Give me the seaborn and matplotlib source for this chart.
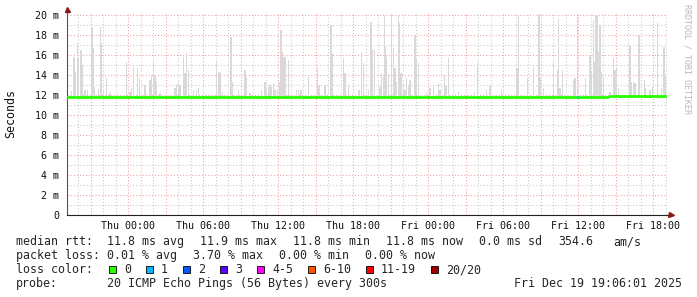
import numpy as np
import pandas as pd
import matplotlib
matplotlib.use("Agg")
import matplotlib.pyplot as plt
import matplotlib.dates as mdates
from matplotlib.ticker import MultipleLocator, FuncFormatter
from matplotlib.patches import Rectangle
import seaborn as sns

# ---------------- data ----------------
start = pd.Timestamp("2025-12-17 19:06:01")
span_hours = 48

# smoke spikes: hours after start, max ping (ms)
spike_hours = [0.03, 0.37, 0.56, 0.64, 0.83, 0.93, 1.12, 1.20, 1.44, 1.63, 2.00, 2.11, 2.19,
               2.51, 2.69, 2.77, 2.91, 3.17, 3.44, 4.77, 5.04, 5.17, 5.31, 5.63, 5.79, 6.24,
               6.64, 6.77, 6.91, 7.04, 7.17, 7.44, 8.11, 8.64, 8.77, 8.91, 9.04, 9.31, 9.44,
               9.57, 9.71, 10.11, 10.37, 10.51, 11.17, 11.97, 12.16, 12.24, 12.43, 13.12,
               13.23, 13.71, 14.24, 14.37, 14.64, 15.57, 15.84, 15.97, 16.11, 16.24, 16.37,
               16.51, 16.64, 16.83, 16.99, 17.12, 17.23, 17.36, 17.49, 17.71, 18.37, 18.51,
               18.72, 19.31, 20.03, 20.16, 20.64, 21.12, 21.23, 22.11, 22.24, 22.51, 23.36,
               23.57, 23.71, 24.15, 24.32, 24.45, 24.59, 25.04, 25.17, 25.31, 25.39, 25.49,
               25.57, 25.71, 25.97, 26.11, 26.24, 26.37, 26.51, 26.61, 26.72, 26.91, 27.04,
               27.17, 27.30, 27.44, 27.84, 27.97, 28.11, 28.77, 29.04, 29.31, 29.71, 29.84,
               30.19, 30.32, 30.51, 31.31, 32.59, 32.85, 33.57, 33.84, 34.77, 35.97, 36.05,
               36.13, 36.85, 37.31, 37.76, 37.84, 38.11, 38.91, 39.23, 39.31, 39.44, 39.63,
               40.51, 40.64, 40.85, 41.49, 41.84, 41.97, 42.11, 42.24, 42.32, 42.43, 42.51,
               42.64, 42.77, 42.91, 43.44, 43.71, 43.84, 43.97, 44.11, 45.04, 45.17, 45.31,
               45.44, 45.76, 46.19, 46.29, 46.64, 46.83, 47.23, 47.57, 47.76, 47.84]
spike_ms = [13.8, 12.4, 15.8, 14.3, 17.2, 15.7, 16.5, 15.0, 12.5, 12.5, 18.8, 16.7, 12.8,
            12.6, 18.8, 17.2, 12.5, 13.7, 12.2, 15.3, 12.3, 12.7, 14.8, 14.7, 13.7, 13.0,
            13.5, 14.0, 15.2, 14.0, 13.3, 12.2, 12.0, 12.7, 13.0, 13.3, 13.0, 15.8, 14.2,
            16.2, 14.5, 12.5, 12.5, 12.7, 12.0, 15.3, 14.3, 14.2, 12.3, 17.8,
            13.3, 12.5, 14.5, 13.8, 12.2, 12.5, 13.3, 12.7, 12.8, 13.0, 12.8,
            13.2, 12.5, 12.5, 13.3, 18.5, 16.3, 15.8, 15.8, 15.5, 12.5, 12.5,
            12.5, 13.8, 14.7, 13.0, 13.0, 19.0, 16.2, 15.7, 14.2, 13.0, 12.5,
            16.3, 15.2, 12.5, 19.3, 16.5, 16.5, 12.8, 14.2, 13.8, 20.0, 16.8,
            15.8, 14.0, 20.0, 16.7, 14.7, 13.3, 20.0, 19.2, 14.2, 13.0, 12.5,
            13.7, 12.8, 13.5, 18.0, 15.5, 15.2, 12.3, 12.7, 12.8, 13.2, 12.5,
            14.0, 13.0, 15.7, 12.3, 12.3, 15.2, 12.5, 13.0, 12.5, 14.7, 14.7,
            20.0, 13.7, 14.8, 20.1, 13.7, 12.7, 15.2, 14.5, 19.7, 12.7, 14.5,
            13.5, 13.7, 19.8, 13.7, 16.0, 14.3, 19.5, 15.3, 20.0, 20.0, 16.3,
            19.0, 14.3, 13.7, 12.3, 15.7, 14.5, 14.7, 12.7, 17.0, 13.3, 13.3,
            13.2, 18.0, 13.5, 12.7, 12.5, 12.8, 19.2, 12.7, 16.8, 14.0]

# median rtt segments (hours after start)
median_seg_start = [0.0, 43.45]
median_seg_end = [43.25, 48.0]
median_seg_ms = [11.8, 11.9]

# loss events drawn on the median line
loss_event_hours = [40.85]
loss_event_level = [1]

loss_labels = ["0", "1", "2", "3", "4-5", "6-10", "11-19", "20/20"]
loss_colors = ["#26ff00", "#00b8ff", "#0059ff", "#5e00ff", "#ff00ff", "#ff5500", "#ff0000", "#a10000"]

y_ticks_ms = [0, 2, 4, 6, 8, 10, 12, 14, 16, 18, 20]

median_items = ["11.8 ms avg", "11.9 ms max", "11.8 ms min", "11.8 ms now", "0.0 ms sd", "354.6", "am/s"]
loss_items = ["0.01 % avg", "3.70 % max", "0.00 % min", "0.00 % now"]
probe_text = "20 ICMP Echo Pings (56 Bytes) every 300s"
stamp_text = "Fri Dec 19 19:06:01 2025"

# ---------------- figure ----------------
W, H = 697, 297
sns.set_style("white")
plt.rcParams["font.family"] = ["DejaVu Sans Mono", "DejaVu Sans"]

fig = plt.figure(figsize=(W / 100, H / 100), dpi=100, facecolor="white")
ax_l, ax_r, ax_t, ax_b = 67, 667, 13, 215
ax = fig.add_axes([ax_l / W, 1 - ax_b / H, (ax_r - ax_l) / W, (ax_b - ax_t) / H])
ax.set_facecolor("white")

t0 = mdates.date2num(start.to_pydatetime())
t1 = t0 + span_hours / 24.0

# smoke
sx = t0 + np.array(spike_hours) / 24.0
sv = np.array(spike_ms)
ax.bar(sx, sv - 11.7, bottom=11.7, width=5.5 / 1440, color="#d9d9d9", linewidth=0, zorder=2)

# median line
rows = []
for i, (a, b, v) in enumerate(zip(median_seg_start, median_seg_end, median_seg_ms)):
    rows.append(dict(x=t0 + a / 24.0, ms=v, seg=i))
    rows.append(dict(x=t0 + b / 24.0, ms=v, seg=i))
mdf = pd.DataFrame(rows)
sns.lineplot(data=mdf, x="x", y="ms", units="seg", estimator=None, color=loss_colors[0],
             linewidth=2.0, ax=ax, zorder=4, legend=False)
for h, lvl in zip(loss_event_hours, loss_event_level):
    xx = t0 + h / 24.0
    ax.plot([xx - 2.5 / 1440, xx + 2.5 / 1440], [11.8, 11.8], color=loss_colors[lvl],
            linewidth=2.0, solid_capstyle="butt", zorder=5)

ax.set_xlim(t0, t1)
ax.set_ylim(0, 20.2)
ax.set_xlabel("")
ax.set_ylabel("")

# axes / grid
ax.xaxis.set_major_locator(mdates.HourLocator(byhour=range(0, 24, 3)))
ax.xaxis.set_minor_locator(mdates.HourLocator(interval=1))


def xfmt(x, pos):
    hr = int(round(x * 24))
    if hr % 6 != 0:
        return ""
    return mdates.num2date(hr / 24.0).strftime("%a %H:%M")


ax.xaxis.set_major_formatter(FuncFormatter(xfmt))
ax.yaxis.set_major_locator(MultipleLocator(2))
ax.yaxis.set_minor_locator(MultipleLocator(1))
ax.set_yticks(y_ticks_ms)
ax.yaxis.set_major_formatter(FuncFormatter(lambda v, p: "0" if v == 0 else f"{int(round(v))} m"))

dots = (0, (1, 2))
ax.set_axisbelow(True)
ax.grid(which="major", color="#f0a0a0", linestyle=dots, linewidth=0.75)
ax.grid(which="minor", color="#c8c8c8", linestyle=dots, linewidth=0.75)

for s in ["top", "right"]:
    ax.spines[s].set_visible(False)
ax.spines["left"].set_color("#555555")
ax.spines["bottom"].set_color("#222222")
ax.spines["left"].set_linewidth(0.8)
ax.spines["bottom"].set_linewidth(0.8)

ax.tick_params(axis="x", which="major", length=2, width=0.7, color="#e08080", pad=2.2,
               labelsize=7.2, labelcolor="#111111")
ax.tick_params(axis="x", which="minor", length=1.5, width=0.7, color="#bbbbbb")
ax.tick_params(axis="y", which="major", length=1.5, width=0.7, color="#e08080", pad=4.0,
               labelsize=7.2, labelcolor="#111111")
ax.tick_params(axis="y", which="minor", length=1.2, width=0.7, color="#bbbbbb")

# arrows
ax.plot([0], [1.0 + 4.5 / (ax_b - ax_t)], marker="^", markersize=3.6, color="#8b1a1a",
        transform=ax.transAxes, clip_on=False, zorder=6)
ax.plot([0, 0], [1.0, 1.0 + 4 / (ax_b - ax_t)], color="#555555", lw=0.8,
        transform=ax.transAxes, clip_on=False)
ax.plot([1.0 + 4 / (ax_r - ax_l)], [0], marker=">", markersize=3.6, color="#8b1a1a",
        transform=ax.transAxes, clip_on=False, zorder=6)
ax.plot([1.0, 1.0 + 3 / (ax_r - ax_l)], [0, 0], color="#222222", lw=0.8,
        transform=ax.transAxes, clip_on=False)


def px(x, y):
    return x / W, 1 - y / H


# y label & watermark
fig.text(*px(10.5, 114), "Seconds", rotation=90, ha="center", va="center", fontsize=8.4,
         color="#111111")
fig.text(*px(687.5, 4), "RRDTOOL / TOBI OETIKER", rotation=270, ha="center", va="top",
         fontsize=6.0, color="#b8b8b8")

# legend lines
fs = 8.4
base = [245.3, 259.3, 273.3, 287.3]
fig.text(*px(16, base[0]), "median rtt:", fontsize=fs, va="baseline", ha="left")
for txt, xx in zip(median_items, [107.3, 200, 293.3, 386.3, 479.3, 558, 613.7]):
    fig.text(*px(xx, base[0]), txt, fontsize=fs, va="baseline", ha="left")
fig.text(*px(16, base[1]), "packet loss:", fontsize=fs, va="baseline", ha="left")
for txt, xx in zip(loss_items, [107.3, 193.3, 279.3, 365.3]):
    fig.text(*px(xx, base[1]), txt, fontsize=fs, va="baseline", ha="left")
fig.text(*px(16, base[2]), "loss color:", fontsize=fs, va="baseline", ha="left")
bx = 108.7
for lab, col in zip(loss_labels, loss_colors):
    r = Rectangle(px(bx, 273.0), 7.5 / W, 7.5 / H, transform=fig.transFigure,
                  facecolor=col, edgecolor="black", linewidth=0.6)
    fig.patches.append(r)
    lx = bx + 15.3
    fig.text(*px(lx, base[2]), lab, fontsize=fs, va="baseline", ha="left")
    bx = lx + len(lab) * 7.0 + 14.7
fig.text(*px(16, base[3]), "probe:", fontsize=fs, va="baseline", ha="left")
fig.text(*px(107.3, base[3]), probe_text, fontsize=fs, va="baseline", ha="left")
fig.text(*px(513.7, base[3]), stamp_text, fontsize=fs, va="baseline", ha="left")

fig.savefig("out.png", dpi=100, facecolor="white")
